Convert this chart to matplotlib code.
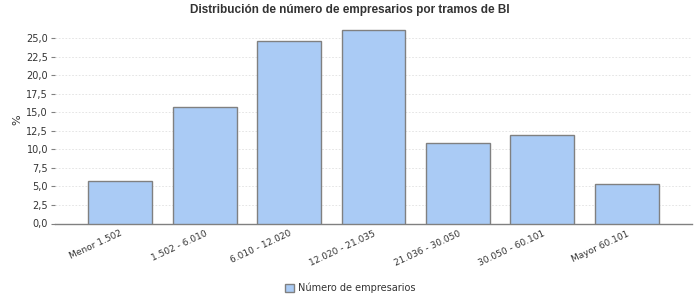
import matplotlib
matplotlib.use("Agg")
import matplotlib.pyplot as plt
from matplotlib.ticker import FixedLocator, FuncFormatter

categories = ["Menor 1.502", "1.502 - 6.010", "6.010 - 12.020", "12.020 - 21.035",
              "21.036 - 30.050", "30.050 - 60.101", "Mayor 60.101"]
values = [5.7, 15.7, 24.7, 26.2, 10.9, 12.0, 5.3]
y_ticks = [0, 2.5, 5, 7.5, 10, 12.5, 15, 17.5, 20, 22.5, 25]
series_name = "Número de empresarios"
title = "Distribución de número de empresarios por tramos de BI"

plt.rcParams['font.family'] = ['DejaVu Sans']
fig = plt.figure(figsize=(7, 3), dpi=100)
ax = fig.add_axes([55/700, 76.5/300, 637/700, 195/300])

x = range(len(categories))
ax.bar(x, values, width=0.757, color="#aacbf5", edgecolor="#808080", linewidth=1.0,
       label=series_name, zorder=3)
ax.set_xlim(-0.77, len(categories) - 1 + 0.77)
ax.set_ylim(0, 26.35)

ax.yaxis.set_major_locator(FixedLocator(y_ticks))
ax.yaxis.set_major_formatter(FuncFormatter(lambda v, p: f"{v:.1f}".replace(".", ",")))
ax.grid(axis="y", color="#e0e0e0", linestyle=(0, (2, 2)), linewidth=0.6, zorder=0)

for s in ["top", "right", "left"]:
    ax.spines[s].set_visible(False)
ax.spines["bottom"].set_color("#808080")
ax.spines["bottom"].set_linewidth(1.0)

ax.tick_params(axis="y", length=3, color="#808080", labelsize=7, labelcolor="#333333", pad=2)
ax.tick_params(axis="x", length=0, labelsize=6.5, labelcolor="#333333", pad=4)
ax.set_xticks(list(x))
ax.set_xticklabels(categories, rotation=25, ha="right", rotation_mode="anchor")

fig.text(17/700, 1 - 120/300, "%", rotation=90, ha="center", va="center",
         fontsize=8, color="#333333")

fig.text(350/700, 1 - 10/300, title, ha="center", va="center", fontsize=8.5,
         fontweight="bold", color="#333333", family=["Liberation Sans", "DejaVu Sans"])

leg = fig.legend(loc="center", bbox_to_anchor=(350/700, 1 - 288/300), frameon=False,
                 fontsize=7, handlelength=0.9, handleheight=0.9, handletextpad=0.4)
for t in leg.get_texts():
    t.set_color("#333333")

fig.savefig("out.png", dpi=100)
